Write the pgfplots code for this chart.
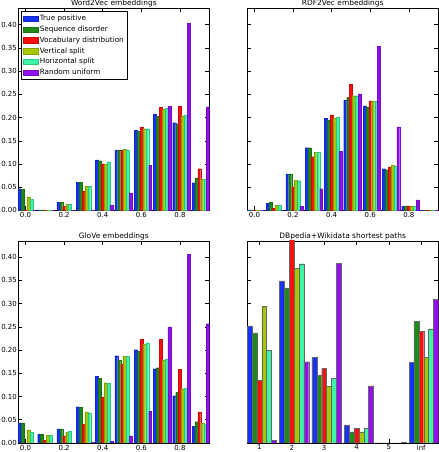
\documentclass[border=0pt]{standalone}
\usepackage{pgfplots}
\usepackage{pgfplotstable}
\pgfplotsset{compat=1.18}
\usepackage{fontspec}
\setmainfont{DejaVu Sans}

\definecolor{cTP}{RGB}{20,50,250}
\definecolor{cSD}{RGB}{30,140,20}
\definecolor{cVD}{RGB}{250,15,15}
\definecolor{cVS}{RGB}{165,200,0}
\definecolor{cHS}{RGB}{60,245,165}
\definecolor{cRU}{RGB}{145,15,240}

\pgfplotstableread{
x   tp    sd    vd    vs    hs    ru
0.0 0.047 0.046 0.001 0.029 0.024 0.000
0.1 0.001 0.001 0.000 0.000 0.000 0.000
0.2 0.018 0.018 0.009 0.014 0.014 0.000
0.3 0.061 0.061 0.041 0.053 0.052 0.001
0.4 0.109 0.107 0.100 0.100 0.105 0.011
0.5 0.130 0.130 0.129 0.132 0.130 0.038
0.6 0.173 0.171 0.180 0.176 0.176 0.097
0.7 0.208 0.203 0.222 0.218 0.220 0.224
0.8 0.189 0.185 0.225 0.204 0.205 0.403
0.9 0.060 0.070 0.090 0.067 0.067 0.223
}\wordvec

\pgfplotstableread{
x   tp    sd    vd    vs    hs    ru
0.0 0.001 0.001 0.000 0.000 0.000 0.000
0.1 0.016 0.017 0.005 0.011 0.011 0.000
0.2 0.079 0.079 0.051 0.065 0.064 0.009
0.3 0.135 0.135 0.116 0.125 0.126 0.047
0.4 0.198 0.195 0.206 0.199 0.201 0.127
0.5 0.237 0.244 0.272 0.247 0.247 0.251
0.6 0.225 0.222 0.236 0.236 0.236 0.353
0.7 0.090 0.088 0.094 0.097 0.095 0.180
0.8 0.009 0.010 0.010 0.010 0.010 0.023
0.9 0.000 0.000 0.000 0.000 0.000 0.000
}\rdfvec

\pgfplotstableread{
x   tp    sd    vd    vs    hs    ru
0.0 0.043 0.043 0.000 0.028 0.024 0.000
0.1 0.019 0.019 0.006 0.016 0.016 0.000
0.2 0.030 0.030 0.015 0.023 0.025 0.000
0.3 0.078 0.077 0.040 0.067 0.065 0.001
0.4 0.143 0.139 0.098 0.130 0.128 0.004
0.5 0.188 0.178 0.169 0.186 0.186 0.015
0.6 0.201 0.197 0.223 0.213 0.216 0.068
0.7 0.160 0.162 0.223 0.179 0.181 0.250
0.8 0.102 0.109 0.159 0.117 0.118 0.406
0.9 0.036 0.046 0.067 0.042 0.041 0.257
}\glove

\pgfplotstableread{
x tp    sd    vd    vs    hs    ru
0 0.252 0.237 0.135 0.294 0.200 0.006
1 0.349 0.334 0.440 0.376 0.386 0.175
2 0.185 0.145 0.160 0.123 0.139 0.387
3 0.039 0.024 0.031 0.024 0.031 0.123
4 0.000 0.000 0.000 0.000 0.000 0.001
5 0.174 0.262 0.240 0.185 0.246 0.309
}\paths

\pgfplotsset{
  hb/.style 2 args={ybar, fill=#1, draw=#1!80!black, line width=0.1pt, bar width=0.015, bar shift=#2},
  pb/.style 2 args={ybar, fill=#1, draw=black!60, line width=0.3pt, bar width=0.15, bar shift=#2},
  panel/.style={
    scale only axis, width=192pt, height=203pt, anchor=south west,
    ymin=0, ymax=0.435,
    ytick={0,0.05,0.10,0.15,0.20,0.25,0.30,0.35,0.40},
    axis line style={line width=0.6pt, black},
    every tick/.style={black, line width=0.5pt},
    major tick length=4pt,
    tick label style={font=\fontsize{7}{8}\selectfont},
    /pgf/number format/assume math mode=true,
    yticklabel style={inner sep=1.3pt, /pgf/number format/.cd, fixed, fixed zerofill, precision=2},
    xticklabel style={inner sep=1.8pt},
    every axis title/.style={at={(0.5,1)}, anchor=south, inner sep=0pt, yshift=1pt,
      font=\fontsize{7.5}{8}\selectfont},
  },
  decx/.style={
    xmin=-0.0375, xmax=0.9525,
    xtick={0,0.2,0.4,0.6,0.8},
    xticklabel style={/pgf/number format/.cd, fixed, fixed zerofill, precision=1},
  },
}

\begin{document}
\begin{tikzpicture}
% Word2Vec
\begin{axis}[panel, decx, at={(15pt,240.6pt)}, title={Word2Vec embeddings},
  legend style={at={(0.015,0.985)}, anchor=north west, draw=black, line width=0.5pt,
    font=\fontsize{7.3}{8}\selectfont, row sep=1.5pt, inner sep=2pt, fill=white,
    nodes={inner sep=1.2pt}},
  legend cell align=left,
  legend image code/.code={\draw[#1,/tikz/.cd,line width=0.3pt] (0pt,-2.6pt) rectangle (15pt,2.6pt);},
]
\addplot[hb={cTP}{-0.030}] table[x=x,y=tp]{\wordvec};
\addplot[hb={cSD}{-0.015}] table[x=x,y=sd]{\wordvec};
\addplot[hb={cVD}{0}]      table[x=x,y=vd]{\wordvec};
\addplot[hb={cVS}{0.015}]  table[x=x,y=vs]{\wordvec};
\addplot[hb={cHS}{0.030}]  table[x=x,y=hs]{\wordvec};
\addplot[hb={cRU}{0.045}]  table[x=x,y=ru]{\wordvec};
\legend{True positive, Sequence disorder, Vocabulary distribution, Vertical split, Horizontal split, Random uniform}
\end{axis}
% RDF2Vec
\begin{axis}[panel, decx, at={(245pt,240.6pt)}, title={RDF2Vec embeddings}, yticklabels={}]
\addplot[hb={cTP}{-0.030}] table[x=x,y=tp]{\rdfvec};
\addplot[hb={cSD}{-0.015}] table[x=x,y=sd]{\rdfvec};
\addplot[hb={cVD}{0}]      table[x=x,y=vd]{\rdfvec};
\addplot[hb={cVS}{0.015}]  table[x=x,y=vs]{\rdfvec};
\addplot[hb={cHS}{0.030}]  table[x=x,y=hs]{\rdfvec};
\addplot[hb={cRU}{0.045}]  table[x=x,y=ru]{\rdfvec};
\end{axis}
% GloVe
\begin{axis}[panel, decx, at={(15pt,7pt)}, title={GloVe embeddings}]
\addplot[hb={cTP}{-0.030}] table[x=x,y=tp]{\glove};
\addplot[hb={cSD}{-0.015}] table[x=x,y=sd]{\glove};
\addplot[hb={cVD}{0}]      table[x=x,y=vd]{\glove};
\addplot[hb={cVS}{0.015}]  table[x=x,y=vs]{\glove};
\addplot[hb={cHS}{0.030}]  table[x=x,y=hs]{\glove};
\addplot[hb={cRU}{0.045}]  table[x=x,y=ru]{\glove};
\end{axis}
% DBpedia
\begin{axis}[panel, at={(245pt,7pt)}, title={DBpedia+Wikidata shortest paths}, yticklabels={},
  xmin=-0.375, xmax=5.525, xtick={0,1,2,3,4,5}, xticklabels={1,2,3,4,5,inf}]
\addplot[pb={cTP}{-0.30}] table[x=x,y=tp]{\paths};
\addplot[pb={cSD}{-0.15}] table[x=x,y=sd]{\paths};
\addplot[pb={cVD}{0}]     table[x=x,y=vd]{\paths};
\addplot[pb={cVS}{0.15}]  table[x=x,y=vs]{\paths};
\addplot[pb={cHS}{0.30}]  table[x=x,y=hs]{\paths};
\addplot[pb={cRU}{0.45}]  table[x=x,y=ru]{\paths};
\end{axis}
\end{tikzpicture}
\end{document}
